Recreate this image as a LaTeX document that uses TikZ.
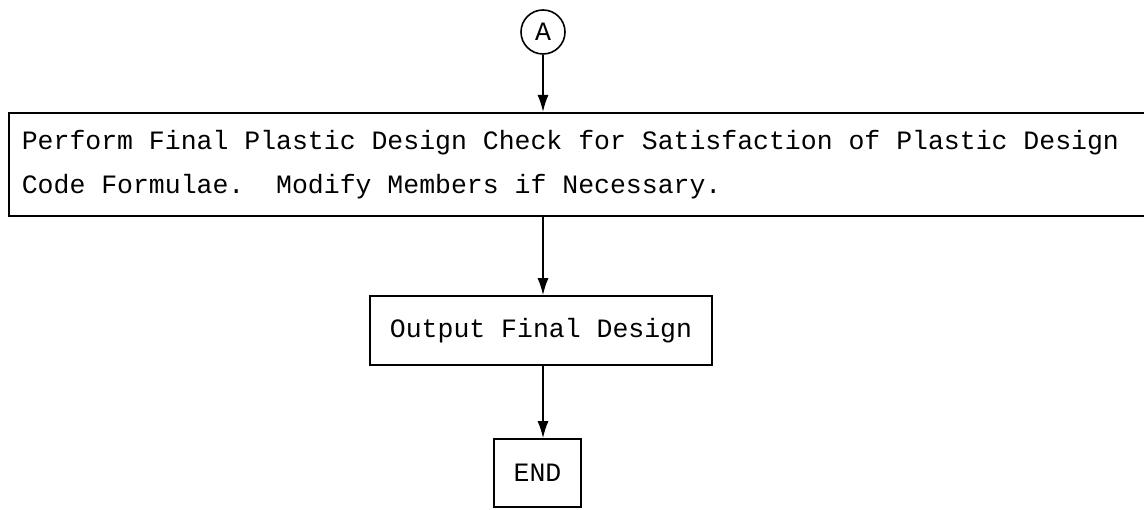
\documentclass[tikz,border=0pt]{standalone}
\usepackage{fontspec}
\setmonofont{Liberation Mono}
\usetikzlibrary{arrows.meta}
\begin{document}
\begin{tikzpicture}[x=1pt,y=-1pt,
  every node/.style={font=\ttfamily\fontsize{26.5}{44}\selectfont},
  connector/.style={line width=1.6pt,black},
  flow/.style={connector,-{Latex[length=17pt,width=11pt]}},
  procbox/.style={draw,line width=1.6pt,rectangle,inner sep=0pt},
  onpage/.style={draw,line width=1.6pt,circle,inner sep=0pt,minimum size=44pt}]
\useasboundingbox (0,0) rectangle (1144,510);
\clip (0,0) rectangle (1144,510);

% off-page connector
\node[onpage] (A) at (543,32) {A};

% final plastic design check (runs off the right margin)
\node[procbox,anchor=north west,minimum width=1150pt,minimum height=103pt,
      text width=1124pt,align=left,inner xsep=9pt] (check) at (8,112)
  {\spaceskip=0pt\xspaceskip=0pt\frenchspacing
   Perform Final Plastic Design Check for Satisfaction of Plastic Design\\
   Code Formulae.\ \ Modify Members if Necessary.};

% output box
\node[procbox,minimum width=342pt,minimum height=69pt] (out) at (541,330.5)
  {Output Final Design};

% end box
\node[procbox,minimum width=87pt,minimum height=68pt] (end) at (537.5,473)
  {END};

\draw[flow] (A.south) -- (A.south |- check.north);
\draw[flow] (check.south -| 543,0) -- (543,0 |- out.north);
\draw[flow] (out.south -| 543,0) -- (543,0 |- end.north);
\end{tikzpicture}
\end{document}
